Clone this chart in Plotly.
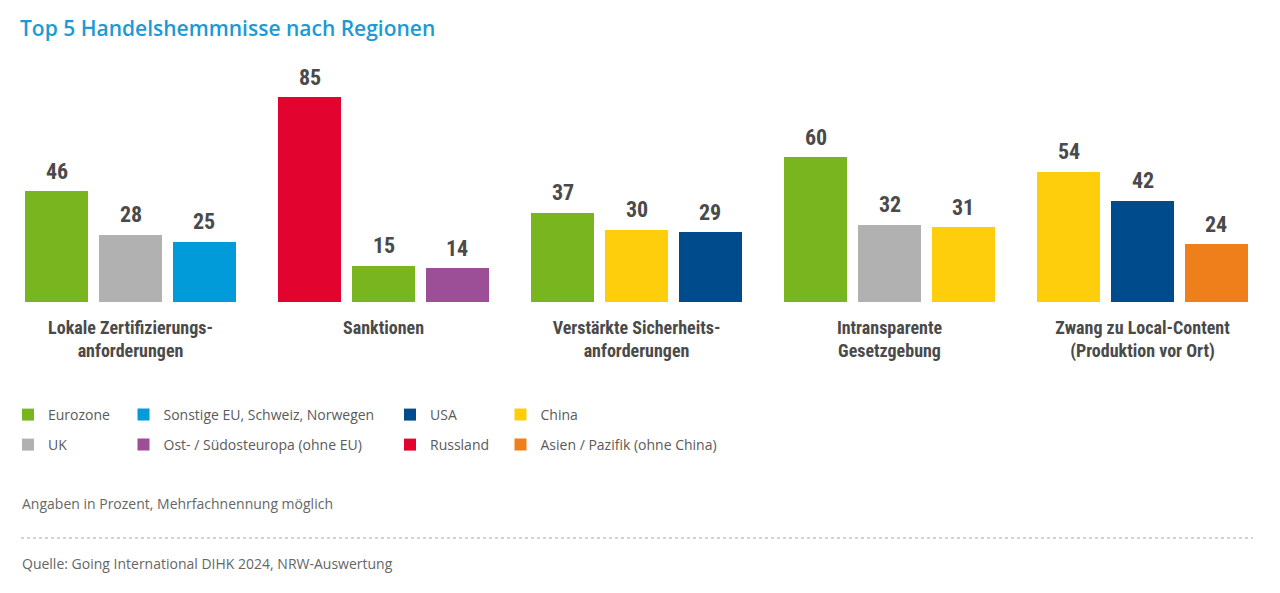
import plotly.graph_objects as go

categories = [
    "Lokale Zertifizierungs-<br>anforderungen",
    "Sanktionen",
    "Verstärkte Sicherheits-<br>anforderungen",
    "Intransparente<br>Gesetzgebung",
    "Zwang zu Local-Content<br>(Produktion vor Ort)",
]
# regions and values of the three bars in each category (left to right)
bar1_regions = ["Eurozone", "Russland", "Eurozone", "Eurozone", "China"]
bar1_values = [46, 85, 37, 60, 54]
bar2_regions = ["UK", "Eurozone", "China", "UK", "USA"]
bar2_values = [28, 15, 30, 32, 42]
bar3_regions = ["Sonstige EU, Schweiz, Norwegen", "Ost-/Südosteuropa (ohne EU)", "USA", "China", "Asien/Pazifik (ohne China)"]
bar3_values = [25, 14, 29, 31, 24]

legend_order = [
    "Eurozone", "Sonstige EU, Schweiz, Norwegen", "USA", "China",
    "UK", "Ost-/Südosteuropa (ohne EU)", "Russland", "Asien/Pazifik (ohne China)",
]
legend_labels = {
    "Ost-/Südosteuropa (ohne EU)": "Ost- / Südosteuropa (ohne EU)",
    "Asien/Pazifik (ohne China)": "Asien / Pazifik (ohne China)",
}
colors = {
    "Eurozone": "#78b51e",
    "Sonstige EU, Schweiz, Norwegen": "#009bd8",
    "USA": "#004b8c",
    "China": "#fecd0c",
    "UK": "#b1b1b1",
    "Ost-/Südosteuropa (ohne EU)": "#9c4f97",
    "Russland": "#e3032f",
    "Asien/Pazifik (ohne China)": "#ef7f1a",
}

SLOT = 0.292
BAR_W = 0.249
LABEL_FONT = "Roboto Condensed, Noto Sans Condensed, Liberation Sans Narrow, DejaVu Sans Condensed, Roboto, sans-serif"
TEXT_FONT = "Open Sans, Noto Sans, sans-serif"

# the page body adds an 8px margin; figure is sized so it ends at the window edge
OFF = 8
W, H = 1280 - OFF, 593 - OFF

# plot-area geometry in figure pixels
PITCH = 253.0
G0_CENTER = 130.5 - OFF
PLOT_L, PLOT_R = 0, W
PLOT_T, PLOT_B = 61 - OFF, 302 - OFF
x_lo = (PLOT_L - G0_CENTER) / PITCH
x_hi = (PLOT_R - G0_CENTER) / PITCH

# collect bars
bars = []
for gi in range(len(categories)):
    for si, (regs, vals) in enumerate([(bar1_regions, bar1_values), (bar2_regions, bar2_values), (bar3_regions, bar3_values)]):
        bars.append((gi + (si - 1) * SLOT, regs[gi], vals[gi]))

fig = go.Figure()

# legend placement (reference screen px of square centres)
leg_cols_px = [25.5, 142.5, 409, 519.5]
leg_rows_px = [415, 445]

for li, region in enumerate(legend_order):
    xs = [b[0] for b in bars if b[1] == region]
    ys = [b[2] for b in bars if b[1] == region]
    lname = "legend" if li == 0 else f"legend{li + 1}"
    fig.add_trace(go.Bar(
        x=xs, y=ys, width=BAR_W,
        name=legend_labels.get(region, region),
        marker=dict(color=colors[region], line=dict(width=0)),
        legend=lname, hoverinfo="y+name",
    ))
    col = li % 4
    row = li // 4
    fig.update_layout(**{lname: dict(
        xref="container", yref="container",
        x=max(0.0, (leg_cols_px[col] - OFF - 19) / W), xanchor="left",
        y=1 - (leg_rows_px[row] - OFF) / H, yanchor="middle",
        bgcolor="rgba(0,0,0,0)", borderwidth=0,
        font=dict(family=TEXT_FONT, size=14, color="#5a5a5a"),
        itemclick=False, itemdoubleclick=False,
    )})

# value labels
for x, region, v in bars:
    fig.add_annotation(
        x=x, y=v, text=str(v), showarrow=False,
        yanchor="middle", yshift=20,
        font=dict(family=LABEL_FONT, size=22, color="#4a4a4a", weight="bold"),
    )


def px_x(px):
    return (px - OFF - PLOT_L) / (PLOT_R - PLOT_L)


def px_y(py):
    return (PLOT_B - (py - OFF)) / (PLOT_B - PLOT_T)


fig.add_annotation(
    xref="paper", yref="paper", x=px_x(20), y=px_y(503), xanchor="left", yanchor="middle",
    text="Angaben in Prozent, Mehrfachnennung möglich", showarrow=False,
    font=dict(family=TEXT_FONT, size=14, color="#666666"),
)
fig.add_annotation(
    xref="paper", yref="paper", x=px_x(20), y=px_y(563), xanchor="left", yanchor="middle",
    text="Quelle: Going International DIHK 2024, NRW-Auswertung", showarrow=False,
    font=dict(family=TEXT_FONT, size=14, color="#666666"),
)
fig.add_shape(
    type="line", xref="paper", yref="paper",
    x0=px_x(21), x1=px_x(1253), y0=px_y(538), y1=px_y(538),
    line=dict(color="#a8a8a8", width=1, dash="dot"),
)

fig.update_layout(
    width=W, height=H,
    margin=dict(l=PLOT_L, r=W - PLOT_R, t=PLOT_T, b=H - PLOT_B, pad=0, autoexpand=False),
    paper_bgcolor="white", plot_bgcolor="white",
    title=dict(
        text="Top 5 Handelshemmnisse nach Regionen",
        xref="container", yref="container", x=(20 - OFF) / W, xanchor="left",
        y=1 - (29 - OFF) / H, yanchor="middle",
        font=dict(family=TEXT_FONT, size=21, color="#1b9ad6", weight=600),
    ),
    xaxis=dict(
        range=[x_lo, x_hi], tickvals=list(range(len(categories))), ticktext=categories,
        showgrid=False, zeroline=False, showline=False, ticks="", tickangle=0,
        ticklabelstandoff=13,
        tickfont=dict(family=LABEL_FONT, size=18, color="#4a4a4a", weight="bold"),
        automargin=False, fixedrange=True,
    ),
    yaxis=dict(range=[0, 100], visible=False, fixedrange=True),
    bargap=0, showlegend=True,
)

fig.write_html("out.html")
